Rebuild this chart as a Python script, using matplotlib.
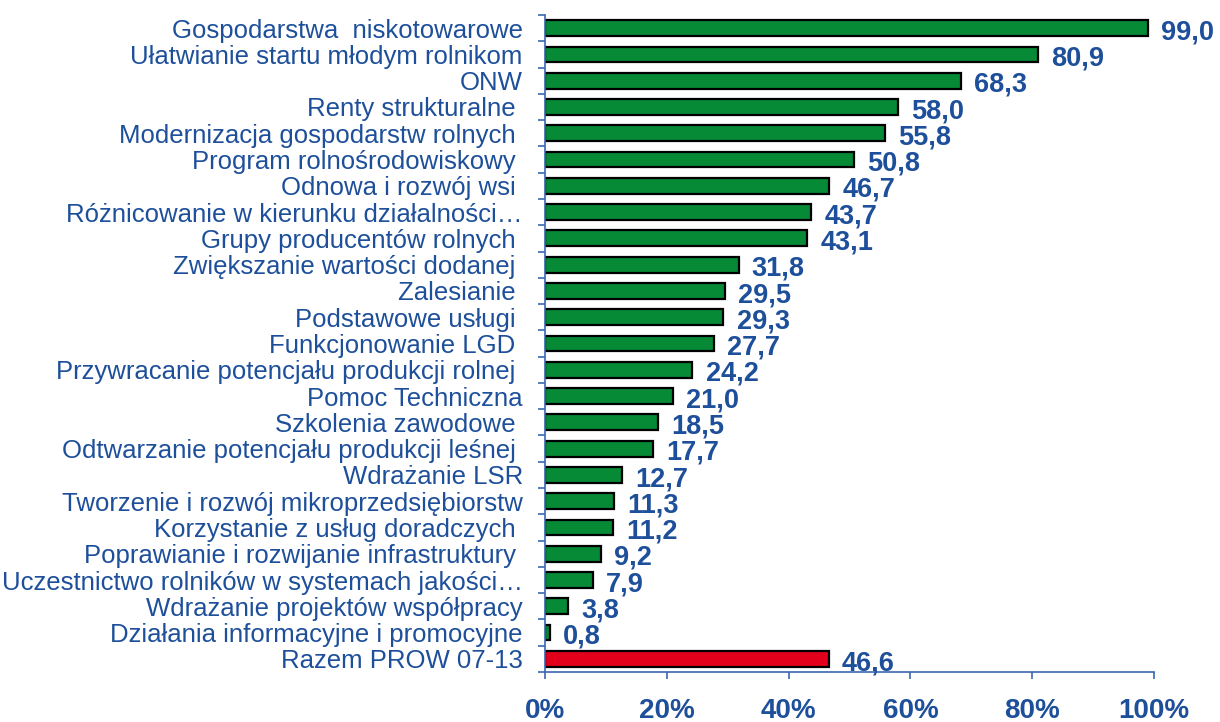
import matplotlib
matplotlib.use('Agg')
import matplotlib.pyplot as plt
from matplotlib.ticker import FixedLocator

plt.rcParams['font.family'] = ['Liberation Sans', 'DejaVu Sans']

categories = [
    'Gospodarstwa  niskotowarowe',
    'Ułatwianie startu młodym rolnikom',
    'ONW',
    'Renty strukturalne ',
    'Modernizacja gospodarstw rolnych ',
    'Program rolnośrodowiskowy ',
    'Odnowa i rozwój wsi ',
    'Różnicowanie w kierunku działalności…',
    'Grupy producentów rolnych ',
    'Zwiększanie wartości dodanej ',
    'Zalesianie ',
    'Podstawowe usługi ',
    'Funkcjonowanie LGD ',
    'Przywracanie potencjału produkcji rolnej ',
    'Pomoc Techniczna',
    'Szkolenia zawodowe ',
    'Odtwarzanie potencjału produkcji leśnej ',
    'Wdrażanie LSR',
    'Tworzenie i rozwój mikroprzedsiębiorstw',
    'Korzystanie z usług doradczych ',
    'Poprawianie i rozwijanie infrastruktury ',
    'Uczestnictwo rolników w systemach jakości…',
    'Wdrażanie projektów współpracy',
    'Działania informacyjne i promocyjne',
    'Razem PROW 07-13',
]
values = [99.0, 80.9, 68.3, 58.0, 55.8, 50.8, 46.7, 43.7, 43.1, 31.8, 29.5, 29.3, 27.7,
          24.2, 21.0, 18.5, 17.7, 12.7, 11.3, 11.2, 9.2, 7.9, 3.8, 0.8, 46.6]
xticks = [0, 20, 40, 60, 80, 100]

blue = '#1D4F9A'
axis_blue = '#3A68B0'
green = '#068A35'
red = '#E2001A'

fig = plt.figure(figsize=(12.2, 7.22), dpi=100)
ax = fig.add_axes([545 / 1220, 1 - 672 / 722, (1154 - 545) / 1220, (672 - 15) / 722])

n = len(categories)
ypos = list(range(n))
colors = [green] * (n - 1) + [red]
ax.barh(ypos, values, height=0.6, color=colors, edgecolor='black', linewidth=1.6)

for y, v in zip(ypos, values):
    ax.annotate(('%.1f' % v).replace('.', ','), (v, y), xytext=(9.5, -3),
                textcoords='offset points', ha='left', va='center',
                fontsize=19.5, fontweight='bold', color=blue)

ax.set_xlim(0, 100)
ax.set_ylim(n - 0.5, -0.5)
ax.set_xticks(xticks)
ax.set_xticklabels(['%d%%' % t for t in xticks], fontsize=20, fontweight='bold', color=blue)
ax.set_yticks(ypos)
ax.set_yticklabels(categories, fontsize=18.5, color=blue)
ax.tick_params(axis='y', length=0, pad=16)
ax.yaxis.set_minor_locator(FixedLocator([i - 0.5 for i in range(n + 1)]))
ax.tick_params(axis='y', which='minor', length=5, color=axis_blue, width=1.2)
ax.tick_params(axis='x', length=5, color=axis_blue, width=1.2, pad=14)

for s in ['top', 'right']:
    ax.spines[s].set_visible(False)
for s in ['left', 'bottom']:
    ax.spines[s].set_color(axis_blue)
    ax.spines[s].set_linewidth(1.2)

fig.savefig('out.png', dpi=100)
